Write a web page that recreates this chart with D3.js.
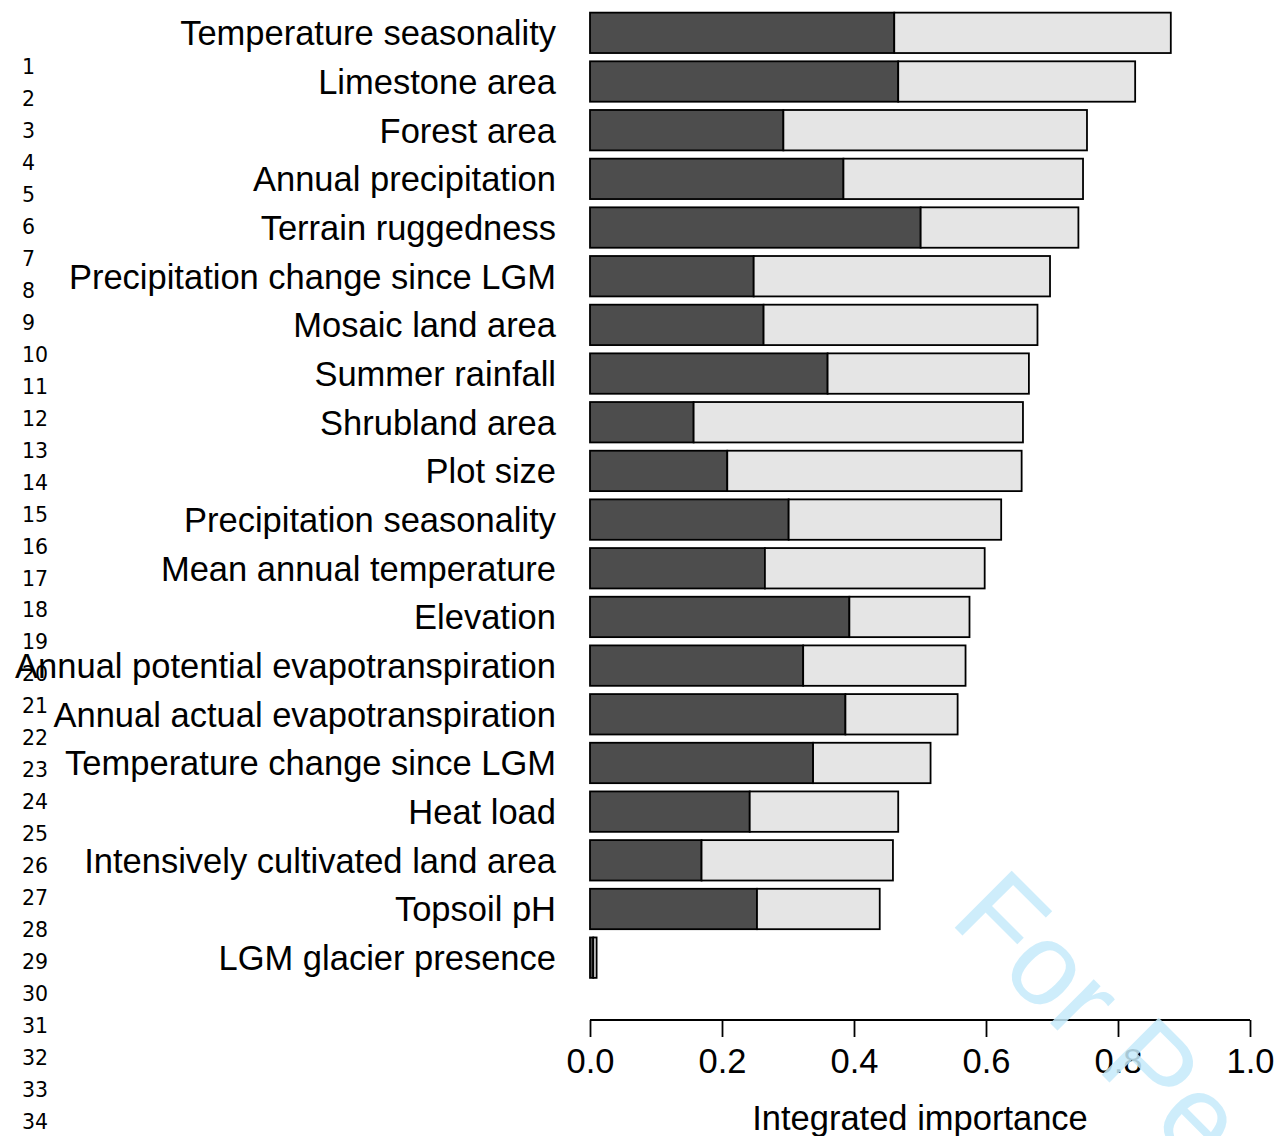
<!DOCTYPE html>
<html><head><meta charset="utf-8">
<script src="https://cdn.jsdelivr.net/npm/d3@7"></script>
<style>body{margin:0;background:#fff}svg{display:block}</style>
</head><body>
<svg id="chart" width="1282" height="1136"></svg>
<script>
const categories = ["Temperature seasonality","Limestone area","Forest area","Annual precipitation","Terrain ruggedness","Precipitation change since LGM","Mosaic land area","Summer rainfall","Shrubland area","Plot size","Precipitation seasonality","Mean annual temperature","Elevation","Annual potential evapotranspiration","Annual actual evapotranspiration","Temperature change since LGM","Heat load","Intensively cultivated land area","Topsoil pH","LGM glacier presence"];
const darkValues  = [0.461,0.467,0.293,0.384,0.501,0.248,0.263,0.360,0.157,0.208,0.301,0.265,0.393,0.323,0.387,0.338,0.242,0.169,0.253,0.005];
const totalValues = [0.880,0.826,0.753,0.747,0.740,0.697,0.678,0.665,0.656,0.654,0.623,0.598,0.575,0.569,0.557,0.516,0.467,0.459,0.439,0.010];
const xTicks = [0.0,0.2,0.4,0.6,0.8,1.0];
const lineNumbers = d3.range(1,35);
const axisTitle = "Integrated importance";
const watermark = "For Peer Review";

const svg = d3.select("#chart");
const x = d3.scaleLinear().domain([0,1]).range([590,1250]);
const y = d3.scaleBand().domain(categories).range([8.5,982]).paddingInner(0.17).paddingOuter(0.085);

// line numbers
svg.append("g").selectAll("text").data(lineNumbers).join("text")
  .attr("x",22).attr("y",(d,i)=>74+i*31.97)
  .attr("font-family","DejaVu Sans").attr("font-size",20.5).attr("fill","#000")
  .text(d=>d);

// bars
const g = svg.append("g");
categories.forEach((c,i)=>{
  g.append("rect").attr("x",x(0)).attr("y",y(c)).attr("width",x(darkValues[i])-x(0)).attr("height",y.bandwidth())
   .attr("fill","#4d4d4d").attr("stroke","#000").attr("stroke-width",1.8);
  g.append("rect").attr("x",x(darkValues[i])).attr("y",y(c)).attr("width",x(totalValues[i])-x(darkValues[i])).attr("height",y.bandwidth())
   .attr("fill","#e5e5e5").attr("stroke","#000").attr("stroke-width",1.8);
});

// category labels
svg.append("g").selectAll("text").data(categories).join("text")
  .attr("x",556).attr("y",d=>y(d)+y.bandwidth()/2+12.5)
  .attr("text-anchor","end").attr("font-family","Liberation Sans, Arial, sans-serif").attr("font-size",34.5).attr("fill","#000")
  .text(d=>d);

// x axis
const ax = svg.append("g").attr("transform","translate(0,1020)")
  .call(d3.axisBottom(x).tickValues(xTicks).tickFormat(d3.format(".1f")).tickSize(17).tickPadding(5));
ax.select(".domain").attr("stroke","#000").attr("stroke-width",1.8).attr("d","M590,0H1250");
ax.selectAll(".tick line").attr("stroke","#000").attr("stroke-width",1.8);
ax.selectAll(".tick text").attr("font-family","Liberation Sans, Arial, sans-serif").attr("font-size",34.5).attr("fill","#000").attr("dy","0.9em");

svg.append("text").attr("x",x(0.5)).attr("y",1130).attr("text-anchor","middle")
  .attr("font-family","Liberation Sans, Arial, sans-serif").attr("font-size",34.5).attr("fill","#000").text(axisTitle);

// watermark
svg.append("text").attr("transform","translate(948,921) rotate(45)")
  .attr("font-family","Liberation Sans, Arial, sans-serif").attr("font-size",117).attr("fill","#c6ebfb").attr("opacity",0.85)
  .text(watermark);
</script>
</body></html>
